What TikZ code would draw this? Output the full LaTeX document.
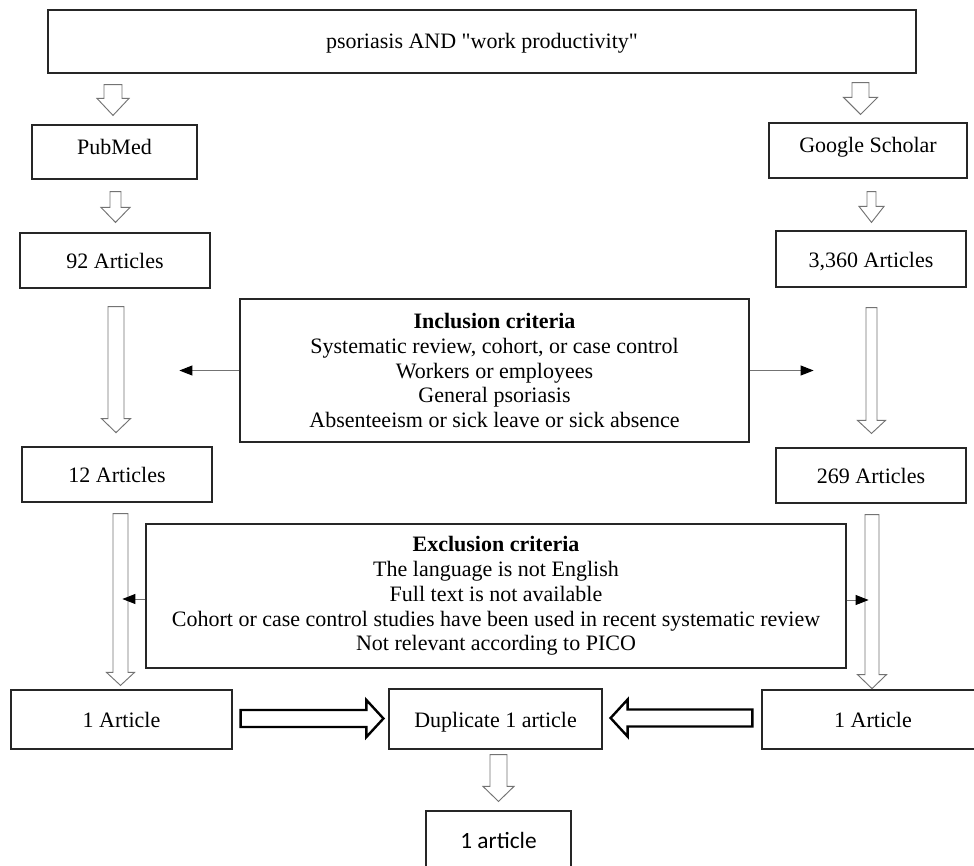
\documentclass[tikz,border=0pt]{standalone}
\usepackage{fontspec}
\setmainfont{Liberation Serif}[Ligatures=TeXOff]
\newfontfamily\calibri{Carlito}
\usetikzlibrary{calc,arrows.meta}

% hollow block arrow between two named coordinates:
% [style] {from} {to} {half shaft} {half head} {head length}
\newcommand\hollowarrow[6][]{%
  \coordinate (hb) at ($(#3)!#6!(#2)$);
  \draw[hollow,#1] ($(#2)!#4!90:(#3)$) -- ($(hb)!#4!90:(#3)$)
    -- ($(hb)!#5!90:(#3)$) -- (#3) -- ($(hb)!#5!-90:(#3)$)
    -- ($(hb)!#4!-90:(#3)$) -- ($(#2)!#4!-90:(#3)$) -- cycle;
}

\begin{document}
\begin{tikzpicture}[x=0.75pt,y=-0.75pt,line join=miter,
    font=\fontsize{16.5pt}{18.6pt}\selectfont,
    box/.style 2 args={draw=black!85,line width=0.9pt,inner sep=0pt,
        minimum width=#1*0.75pt,minimum height=#2*0.75pt},
    oneline/.style={text height=12.5pt,text depth=0pt},
    raised/.style={text height=7pt,text depth=4pt},
    hollow/.style={draw=black!55,line width=0.7pt,fill=white},
    heavy/.style={draw=black,line width=1.8pt},
    pointer/.style={draw=black!55,line width=0.7pt,
        -{Triangle[length=9.75pt,width=7.5pt,color=black]}}]
    \useasboundingbox (0,0) rectangle (974,865);
    \clip (0,0) rectangle (974,865);

    % search and sources
    \node[box={868}{63},text height=9.75pt,text depth=0pt] (query) at (482,41.5) {psoriasis AND "work productivity"};
    \node[box={165}{54},raised] (pubmed) at (114.5,152) {PubMed};
    \node[box={198}{55},raised] (gscholar) at (868,150.5) {Google Scholar};
    \node[box={190}{55},oneline] (pm92) at (115,260.5) {92 Articles};
    \node[box={190}{56},oneline] (gs3360) at (871,259) {3,360 Articles};

    % criteria
    \node[box={509}{143},align=center] (incl) at (494.5,370.5)
        {\textbf{Inclusion criteria}\\Systematic review, cohort, or case control\\
         Workers or employees\\General psoriasis\\Absenteeism or sick leave or sick absence};
    \node[box={190}{55},oneline] (pm12) at (117,474.5) {12 Articles};
    \node[box={190}{55},oneline] (gs269) at (871,475.5) {269 Articles};
    \node[box={700}{144},align=center] (excl) at (496,596)
        {\textbf{Exclusion criteria}\\The language is not English\\Full text is not available\\
         Cohort or case control studies have been used in recent systematic review\\
         Not relevant according to PICO};

    % results
    \node[box={221}{59},oneline] (pm1) at (121.5,719.5) {1 Article};
    \node[box={213}{60},oneline] (dup) at (495.5,719) {Duplicate 1 article};
    \node[box={222}{59},oneline] (gs1) at (873,719.5) {1 Article};
    \node[box={145}{60},font=\calibri\fontsize{17.5pt}{20pt}\selectfont,
        text height=10.5pt,text depth=0pt] (final) at (498.5,841) {1 article};

    % left column
    \coordinate (a1s) at ($(pubmed.north |- query.south)+(-1.5,11)$);
    \coordinate (a1e) at ($(pubmed.north)+(-1.5,-9)$);
    \hollowarrow{a1s}{a1e}{6.75pt}{12pt}{12.75pt}
    \coordinate (a2s) at ($(pubmed.south)+(1,12)$);
    \coordinate (a2e) at ($(pm92.north)+(0.5,-10)$);
    \hollowarrow{a2s}{a2e}{4.125pt}{10.875pt}{11.25pt}
    \coordinate (a3s) at ($(pm92.south)+(1,18)$);
    \coordinate (a3e) at ($(pm12.north |- pm92.south)+(-1,144)$);
    \hollowarrow{a3s}{a3e}{6pt}{10.875pt}{10.5pt}
    \coordinate (a4s) at ($(pm1.north |- pm12.south)+(-1,11)$);
    \coordinate (a4e) at ($(pm1.north)+(-1,-4)$);
    \hollowarrow{a4s}{a4e}{5.625pt}{10.5pt}{9.75pt}

    % right column
    \coordinate (b1s) at ($(gscholar.north |- query.south)+(-7.5,9)$);
    \coordinate (b1e) at ($(gscholar.north)+(-7.5,-8)$);
    \hollowarrow{b1s}{b1e}{6.375pt}{12.75pt}{12.75pt}
    \coordinate (b2s) at ($(gs3360.north |- gscholar.south)+(0.5,13)$);
    \coordinate (b2e) at ($(gs3360.north)+(0.5,-8)$);
    \hollowarrow{b2s}{b2e}{3.375pt}{9.375pt}{12pt}
    \coordinate (b3s) at ($(gs3360.south)+(0.5,20)$);
    \coordinate (b3e) at ($(gs269.north)+(0.5,-14)$);
    \hollowarrow{b3s}{b3e}{4.125pt}{10.5pt}{9.75pt}
    \coordinate (b4s) at ($(gs269.south)+(1,11)$);
    \coordinate (b4e) at ($(gs1.north |- gs269.south)+(-1,185)$);
    \hollowarrow{b4s}{b4e}{5.25pt}{10.875pt}{10.5pt}

    % into the duplicate check
    \coordinate (c1s) at ($(pm1.east)+(8,-1)$);
    \coordinate (c1e) at ($(dup.west)+(-5,-0.5)$);
    \hollowarrow[heavy]{c1s}{c1e}{6.375pt}{13.875pt}{12.75pt}
    \coordinate (c2s) at ($(gs1.west)+(-9,-1.5)$);
    \coordinate (c2e) at ($(dup.east)+(8,-1)$);
    \hollowarrow[heavy]{c2s}{c2e}{6.375pt}{13.875pt}{12.75pt}
    \coordinate (ds) at ($(final.north |- dup.south)+(0,5)$);
    \coordinate (de) at ($(final.north)+(0,-9)$);
    \hollowarrow{ds}{de}{6.375pt}{11.625pt}{11.25pt}

    % criteria pointers
    \coordinate (il) at ($(incl.west)+(-60,0)$);
    \coordinate (ir) at ($(incl.east)+(64,0)$);
    \draw[pointer] (incl.west) -- (il);
    \draw[pointer] (incl.east) -- (ir);
    \coordinate (xl) at ($(excl.west)+(-23,3)$);
    \coordinate (xr) at ($(excl.east)+(22,4)$);
    \draw[pointer] ($(excl.west)+(0,3)$) -- (xl);
    \draw[pointer] ($(excl.east)+(0,4)$) -- (xr);
\end{tikzpicture}
\end{document}
